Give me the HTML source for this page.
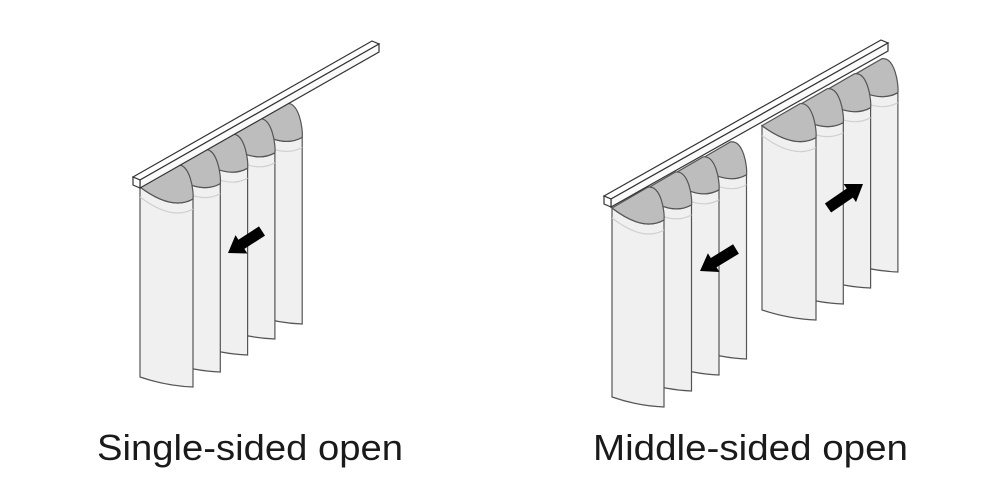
<!DOCTYPE html>
<html><head><meta charset="utf-8"><style>
html,body{margin:0;padding:0;background:#fff;width:1000px;height:500px;overflow:hidden}
svg{display:block}
text{font-family:"Liberation Sans",sans-serif;font-size:36px;fill:#1a1a1a}
</style></head><body>
<svg id="s" width="1000" height="500" viewBox="0 0 1000 500" xmlns="http://www.w3.org/2000/svg">
<g id="g"></g>
<text x="97" y="460" textLength="306" lengthAdjust="spacingAndGlyphs">Single-sided open</text>
<text x="593" y="460" textLength="315" lengthAdjust="spacingAndGlyphs">Middle-sided open</text>
</svg>
<script>
var out='';
function rail(x0,y0,x1,y1){
 out+='<polygon points="'+x0+','+y0+' '+(x1-7)+','+y1+' '+x1+','+(y1+3)+' '+(x0+7)+','+(y0+3)+'" fill="#fff" stroke="#333" stroke-width="1.2"/>';
 out+='<polygon points="'+(x0+7)+','+(y0+3)+' '+x1+','+(y1+3)+' '+x1+','+(y1+11)+' '+(x0+7)+','+(y0+11)+'" fill="#fafafa" stroke="#333" stroke-width="1.2"/>';
 out+='<polygon points="'+x0+','+y0+' '+(x0+7)+','+(y0+3)+' '+(x0+7)+','+(y0+11)+' '+x0+','+(y0+8)+'" fill="#fff" stroke="#333" stroke-width="1.2"/>';
}
function fold(L,w,y0,byR,s){
 var R=L+w, y3=y0+12, ub=y0-s*(w-14);
 var body='M'+L+','+y0+' L'+L+','+(byR-8)+' Q'+(L+w*0.5)+','+(byR+1)+' '+R+','+(byR+2)+' L'+R+','+y3+' Q'+(L+w*0.6)+','+(y3+12)+' '+L+','+y0+'Z';
 out+='<path d="'+body+'" fill="#f0f0f0" stroke="#555" stroke-width="1.2"/>';
 out+='<path d="M'+L+','+(y0+10)+' Q'+(L+w*0.6)+','+(y3+22)+' '+R+','+(y3+10)+'" fill="none" stroke="#d0d0d0" stroke-width="1.2"/>';
 var cap='M'+L+','+y0+' L'+(R-16)+','+ub+' C'+(R-3)+','+(ub-2)+' '+(R+1)+','+(y3-8)+' '+R+','+y3+' Q'+(L+w*0.6)+','+(y3+12)+' '+L+','+y0+'Z';
 out+='<path d="'+cap+'" fill="#bdbdbd" stroke="#555" stroke-width="1.2"/>';
}
function arrow(tx,ty,bx,by){
 var dx=bx-tx,dy=by-ty,l=Math.hypot(dx,dy),ux=dx/l,uy=dy/l,px=-uy,py=ux;
 var hl=16,hw=11,sw=5.5;
 function p(a,b){return (tx+ux*a+px*b).toFixed(1)+','+(ty+uy*a+py*b).toFixed(1);}
 out+='<polygon points="'+[p(0,0),p(hl,hw),p(hl,sw),p(l,sw),p(l,-sw),p(hl,-sw),p(hl,-hw)].join(' ')+'" fill="#000"/>';
}
var s1=0.564;
var lb=[385,370,353,337,322];
for(var i=4;i>=0;i--){var L=140+27.3*i;fold(L,53,187-s1*(L-140),lb[i],s1);}
rail(133,177,379,41);
arrow(228,253,262,231);
var s2=0.549;
var rr=[318,302,286,270];
for(var i=3;i>=0;i--){var L=762+27.3*i;fold(L,54,208-s2*(L-612),rr[i],s2);}
var lb2=[405,389,373,357];
for(var i=3;i>=0;i--){var L=612+27.5*i;fold(L,52,208-s2*(L-612),lb2[i],s2);}
rail(604,196,888,40);
arrow(700,271,736,249);
arrow(863,184,828,208);
document.getElementById('g').innerHTML=out;
</script>
</body></html>
